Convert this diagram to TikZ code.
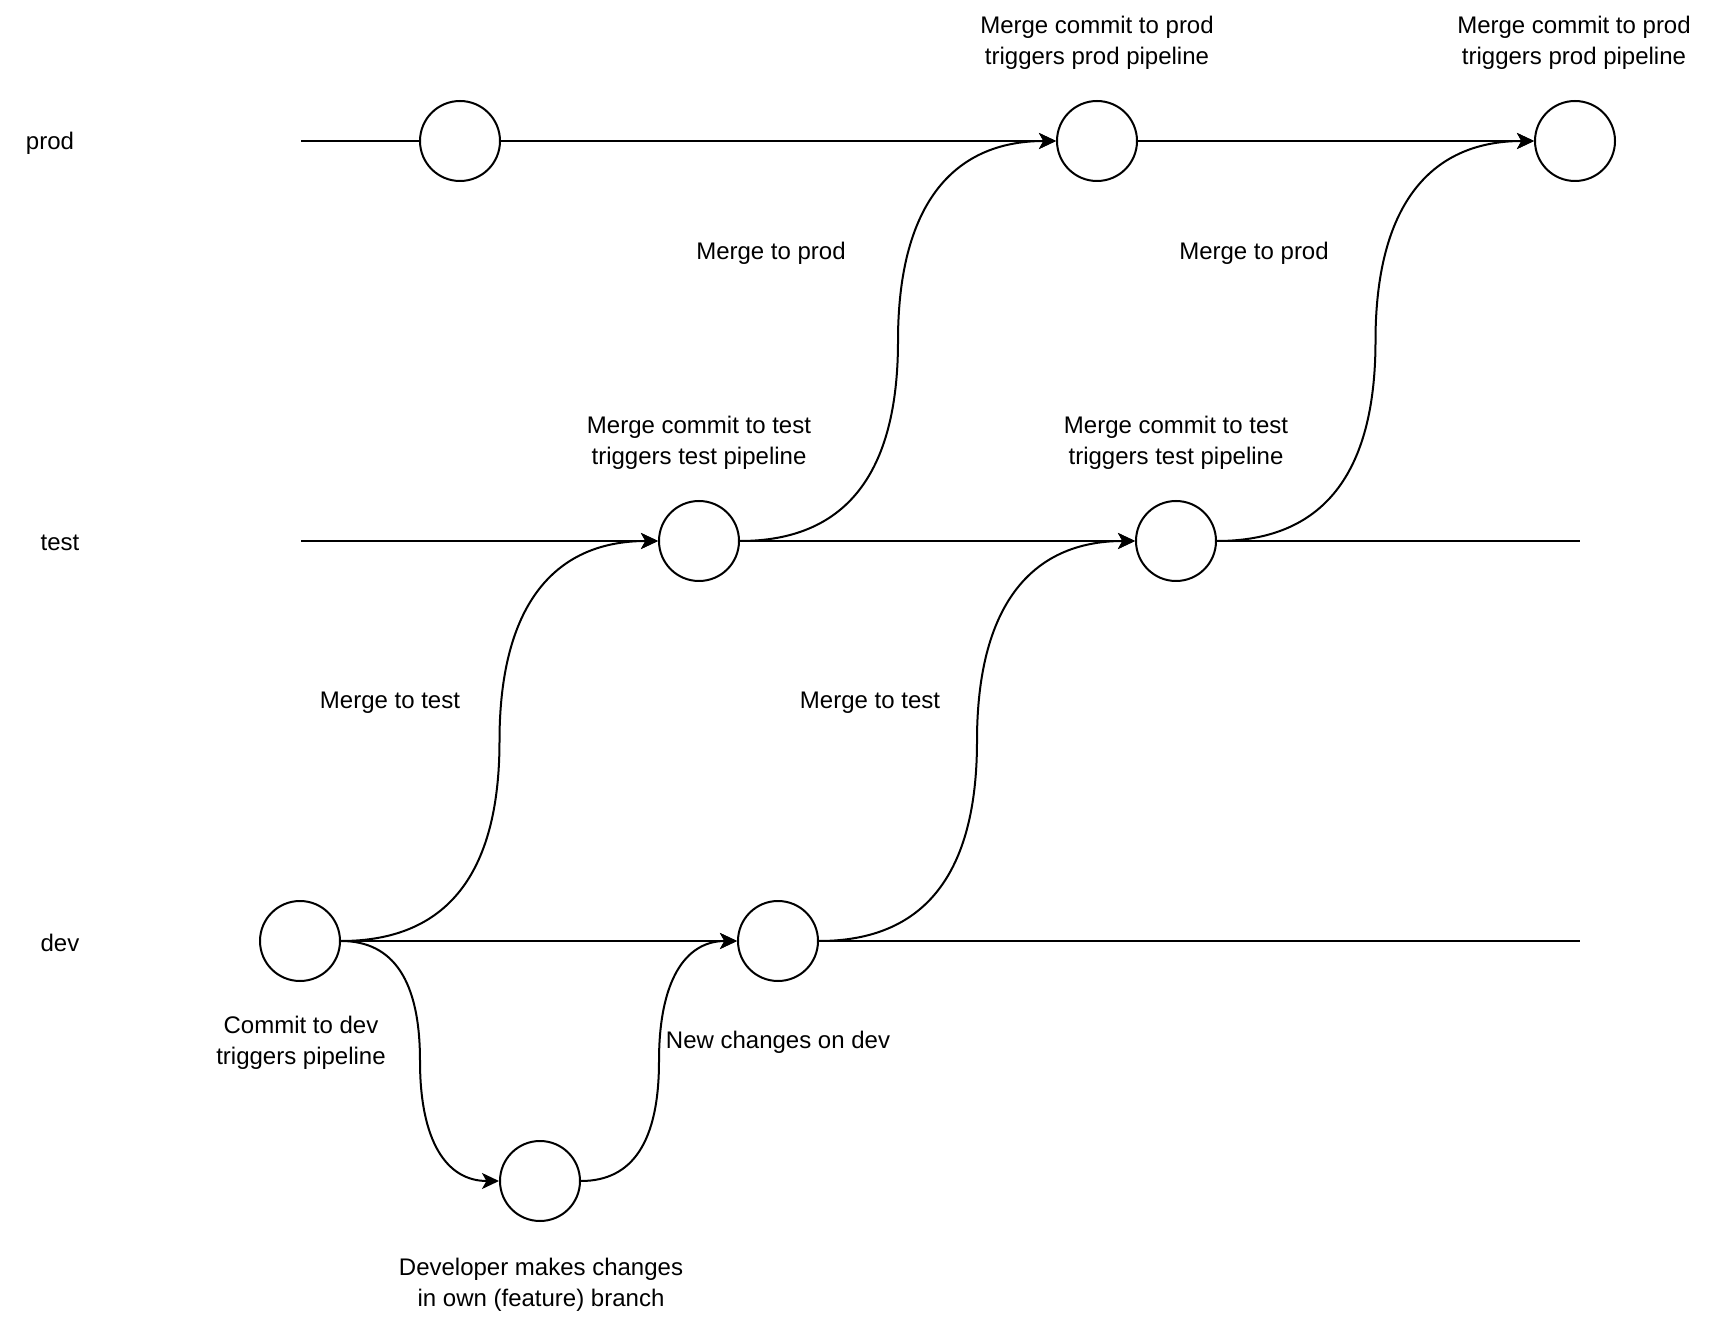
\documentclass[tikz,border=0pt]{standalone}
\usepackage{fontspec}
\setmainfont{Liberation Sans}
\usetikzlibrary{arrows.meta,calc}
\newcommand\mergecurve[3]{%
  \draw[conn] (#1) .. controls ($(#1)!2/3!(#1 -| #3)$) and ($(#3)!2/3!(#1 -| #3)$) .. (#3)
    .. controls ($(#3)!2/3!(#2 -| #3)$) and ($(#2)!2/3!(#2 -| #3)$) .. (#2);}
\begin{document}
\begin{tikzpicture}[x=0.5pt,y=-0.5pt,
  commit/.style={circle, draw, line width=1pt, minimum size=40pt, inner sep=0pt, fill=white},
  lbl/.style={font=\fontsize{12}{15.3}\selectfont, align=center, inner sep=0pt},
  conn/.style={line width=1pt, -{Stealth[length=8.5pt,width=8pt,inset=2.2pt]}},
  plainline/.style={line width=1pt}]
\useasboundingbox[fill=white] (0,0) rectangle (1714,1320);

% commits
\node[commit] (p1) at (460,141) {};
\node[commit] (p2) at (1097,141) {};
\node[commit] (p3) at (1575,141) {};
\node[commit] (t1) at (699,541) {};
\node[commit] (t2) at (1176,541) {};
\node[commit] (d1) at (300,941) {};
\node[commit] (d2) at (778,941) {};
\node[commit] (f1) at (540,1181) {};

% free line ends
\coordinate (ps) at (301,141);
\coordinate (ts) at (301,541);
\coordinate (te) at (1580,541);
\coordinate (de) at (1580,941);

% midpoints of merge curves
\coordinate (m1) at ($(d1.east)!0.5!(t1.west)$);
\coordinate (m2) at ($(t1.east)!0.5!(p2.west)$);
\coordinate (m3) at ($(d2.east)!0.5!(t2.west)$);
\coordinate (m4) at ($(t2.east)!0.5!(p3.west)$);
\coordinate (m5) at ($(d1.east)!0.5!(f1.west)$);
\coordinate (m6) at ($(f1.east)!0.5!(d2.west)$);

% branch lines
\draw[plainline] (ps) -- (p1.west);
\draw[conn] (p1.east) -- (p2.west);
\draw[conn] (p2.east) -- (p3.west);
\draw[conn] (ts) -- (t1.west);
\draw[conn] (t1.east) -- (t2.west);
\draw[plainline] (t2.east) -- (te);
\draw[conn] (d1.east) -- (d2.west);
\draw[plainline] (d2.east) -- (de);

% merge curves
\mergecurve{d1.east}{t1.west}{m1}
\mergecurve{t1.east}{p2.west}{m2}
\mergecurve{d2.east}{t2.west}{m3}
\mergecurve{t2.east}{p3.west}{m4}
\mergecurve{d1.east}{f1.west}{m5}
\mergecurve{f1.east}{d2.west}{m6}

% labels
\node[lbl] (lprod) at (50,143) {prod};
\node[lbl] (ltest) at (60,543) {test};
\node[lbl] (ldev) at (60,943) {dev};
\node[lbl] (a1) at (1097,43) {Merge commit to prod\\triggers prod pipeline};
\node[lbl] (a2) at (1574,43) {Merge commit to prod\\triggers prod pipeline};
\node[lbl] (b1) at (771,253) {Merge to prod};
\node[lbl] (b2) at (1254,253) {Merge to prod};
\node[lbl] (c1) at (699,443) {Merge commit to test\\triggers test pipeline};
\node[lbl] (c2) at (1176,443) {Merge commit to test\\triggers test pipeline};
\node[lbl] (e1) at (390,703) {Merge to test};
\node[lbl] (e2) at (870,703) {Merge to test};
\node[lbl] (g1) at (301,1043) {Commit to dev\\triggers pipeline};
\node[lbl] (g2) at (778,1042) {New changes on dev};
\node[lbl] (g3) at (541,1285) {Developer makes changes\\in own (feature) branch};
\end{tikzpicture}
\end{document}
